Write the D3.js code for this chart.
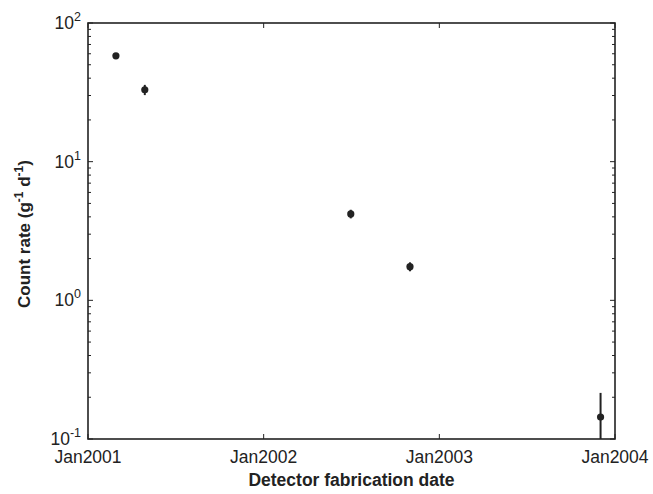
<!DOCTYPE html>
<html><head><meta charset="utf-8">
<script src="https://d3js.org/d3.v7.min.js"></script>
<style>body{margin:0;background:#fff}svg{display:block}text{font-family:"Liberation Sans",Arial,Helvetica,sans-serif;fill:#222}</style>
</head><body>
<script>
const dates = ["2001-02-28","2001-04-29","2002-07-01","2002-11-01","2003-12-02"];
const rates = [58, 33, 4.2, 1.75, 0.144];
const errLow = [1.5, 2.8, 0.3, 0.13, 0.08];
const errHigh = [1.5, 2.8, 0.3, 0.13, 0.071];
const xTickDates = ["2001-01-01","2002-01-01","2003-01-01","2004-01-01"];
const xTickLabels = ["Jan2001","Jan2002","Jan2003","Jan2004"];
const yTickValues = [0.1, 1, 10, 100];
const yTickExps = ["-1","0","1","2"];

const W=653,H=494;
const m={l:88,t:23,r:615,b:439};
const parse=d3.utcParse("%Y-%m-%d");
const svg=d3.select("body").append("svg").attr("width",W).attr("height",H);
const x=d3.scaleUtc().domain([parse("2001-01-01"),parse("2004-01-01")]).range([m.l,m.r]);
const y=d3.scaleLog().domain([0.1,100]).range([m.b,m.t]);
const col="#222";

svg.append("clipPath").attr("id","c").append("rect")
  .attr("x",m.l).attr("y",m.t).attr("width",m.r-m.l).attr("height",m.b-m.t);

// minor ticks
const minor=[];
for(let e=-1;e<2;e++) for(let k=2;k<=9;k++) minor.push(k*Math.pow(10,e));
const tg=svg.append("g").attr("stroke",col).attr("stroke-width",1);
minor.forEach(v=>{
  tg.append("line").attr("x1",m.l).attr("x2",m.l+3).attr("y1",y(v)).attr("y2",y(v));
  tg.append("line").attr("x1",m.r).attr("x2",m.r-3).attr("y1",y(v)).attr("y2",y(v));
});
yTickValues.forEach(v=>{
  tg.append("line").attr("x1",m.l).attr("x2",m.l+5).attr("y1",y(v)).attr("y2",y(v));
  tg.append("line").attr("x1",m.r).attr("x2",m.r-5).attr("y1",y(v)).attr("y2",y(v));
});
xTickDates.forEach(d=>{
  const xx=x(parse(d));
  tg.append("line").attr("x1",xx).attr("x2",xx).attr("y1",m.b).attr("y2",m.b-5);
  tg.append("line").attr("x1",xx).attr("x2",xx).attr("y1",m.t).attr("y2",m.t+5);
});

// frame
svg.append("rect").attr("x",m.l).attr("y",m.t).attr("width",m.r-m.l).attr("height",m.b-m.t)
  .attr("fill","none").attr("stroke",col).attr("stroke-width",1.6);

// y tick labels
yTickValues.forEach((v,i)=>{
  const t=svg.append("text").attr("x",m.l-7).attr("y",y(v)+6).attr("text-anchor","end").attr("font-size",17.5);
  t.append("tspan").text("10");
  t.append("tspan").attr("dy",-8).attr("font-size",12.5).text(yTickExps[i]);
});
// x tick labels
xTickDates.forEach((d,i)=>{
  svg.append("text").attr("x",x(parse(d))).attr("y",m.b+24).attr("text-anchor","middle").attr("font-size",17.5).text(xTickLabels[i]);
});

// axis titles
svg.append("text").attr("x",(m.l+m.r)/2).attr("y",486).attr("text-anchor","middle")
  .attr("font-size",17.5).attr("font-weight","bold").text("Detector fabrication date");
const yl=svg.append("text").attr("transform",`translate(30,${(m.t+m.b)/2+3}) rotate(-90)`)
  .attr("text-anchor","middle").attr("font-size",17).attr("font-weight","bold");
yl.append("tspan").text("Count rate (g");
yl.append("tspan").attr("dy",-7).attr("font-size",12).text("-1");
yl.append("tspan").attr("dy",7).text(" d");
yl.append("tspan").attr("dy",-7).attr("font-size",12).text("-1");
yl.append("tspan").attr("dy",7).text(")");

// data
const pts=dates.map((d,i)=>({x:x(parse(d)),v:rates[i],lo:rates[i]-errLow[i],hi:rates[i]+errHigh[i]}));
const dg=svg.append("g").attr("clip-path","url(#c)");
dg.selectAll("line.e").data(pts).join("line").attr("class","e")
  .attr("x1",d=>d.x).attr("x2",d=>d.x)
  .attr("y1",d=>y(Math.max(d.lo,0.05))).attr("y2",d=>y(d.hi))
  .attr("stroke",col).attr("stroke-width",2);
dg.selectAll("circle").data(pts).join("circle")
  .attr("cx",d=>d.x).attr("cy",d=>y(d.v)).attr("r",3.6).attr("fill",col);
</script>
</body></html>
